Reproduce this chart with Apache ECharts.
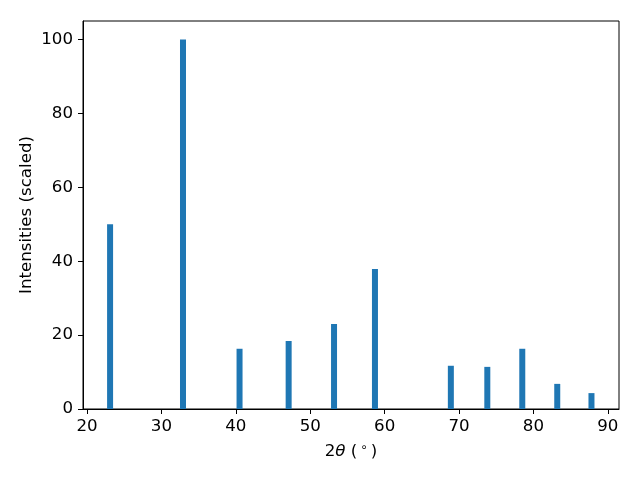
<!DOCTYPE html>
<html>
<head>
<meta charset="utf-8">
<script src="https://cdn.jsdelivr.net/npm/echarts@6/dist/echarts.min.js"></script>
<style>html,body{margin:0;padding:0;background:#fff}#c{width:640px;height:480px}</style>
</head>
<body>
<div id="c"></div>
<script>
const twoTheta = [23.1, 32.9, 40.5, 47.1, 53.2, 58.7, 68.9, 73.8, 78.5, 83.2, 87.8];
const intensity = [50, 100, 16.3, 18.4, 23.0, 37.9, 11.7, 11.4, 16.3, 6.8, 4.3];
const xTicks = [20, 30, 40, 50, 60, 70, 80, 90];
const yTicks = [0, 20, 40, 60, 80, 100];

const chart = echarts.init(document.getElementById('c'), null, {renderer: 'canvas'});
const font = 'DejaVu Sans';
const fs = 16.67;
chart.setOption({
  animation: false,
  backgroundColor: '#fff',
  grid: {left: 83, right: 21, top: 21, bottom: 71, show: true, borderColor: '#000', borderWidth: 1, backgroundColor: 'transparent'},
  xAxis: {
    type: 'value', min: 19.46, max: 91.5,
    name: '2{i|θ} ({s|∘})', nameLocation: 'middle', nameGap: 33, nameMoveOverlap: false,
    nameTextStyle: {fontFamily: font, fontSize: fs, color: '#000',
      rich: {
        i: {fontFamily: font, fontStyle: 'italic', fontSize: fs, color: '#000'},
        s: {fontFamily: font, fontSize: 12, color: '#000', padding: [0, 3, 7, 3]}
      }},
    axisLine: {show: true, onZero: false, lineStyle: {color: '#000', width: 1}},
    axisTick: {show: true, length: 5, customValues: xTicks, lineStyle: {color: '#000'}},
    axisLabel: {customValues: xTicks, fontFamily: font, fontSize: fs, color: '#000', margin: 9},
    splitLine: {show: false}
  },
  yAxis: {
    type: 'value', min: 0, max: 105,
    name: 'Intensities (scaled)', nameLocation: 'middle', nameGap: 48, nameMoveOverlap: false,
    nameTextStyle: {fontFamily: font, fontSize: fs, color: '#000'},
    axisLine: {show: true, lineStyle: {color: '#000', width: 1}},
    axisTick: {show: true, length: 5, customValues: yTicks, lineStyle: {color: '#000'}},
    axisLabel: {customValues: yTicks, fontFamily: font, fontSize: fs, color: '#000', margin: 10},
    splitLine: {show: false}
  },
  series: [{
    type: 'bar',
    data: twoTheta.map((x, i) => [x, intensity[i]]),
    barWidth: 6,
    itemStyle: {color: '#1f77b4'}
  }]
});
</script>
</body>
</html>
